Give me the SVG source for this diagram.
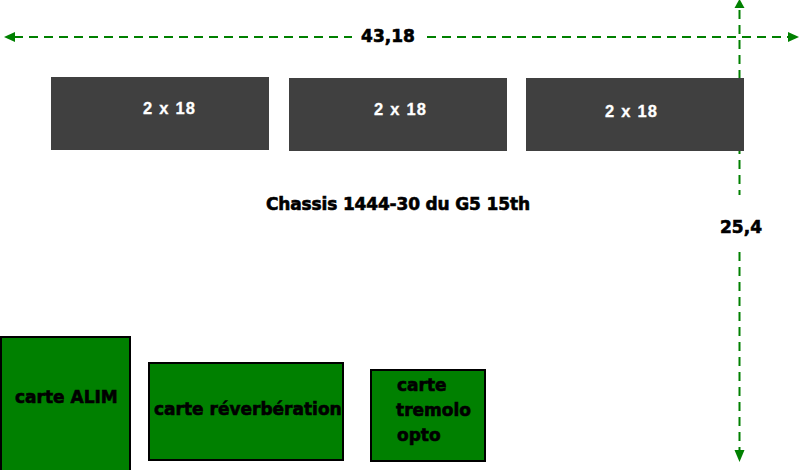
<svg xmlns="http://www.w3.org/2000/svg" width="799" height="470" viewBox="0 0 799 470">
<defs>
<style>
.dim{stroke:#008000;stroke-width:2;stroke-dasharray:9 6;fill:none}
.ah{fill:#008000}
.blk{fill:#404040}
.wt{font-family:"Liberation Sans",Arial,sans-serif;font-weight:bold;font-size:16.5px;fill:#fff;stroke:#fff;stroke-width:0.3}
.lbl{font-family:"DejaVu Sans",Verdana,sans-serif;font-weight:bold;font-size:17px;fill:#000;stroke:#000;stroke-width:0.6}
.card{fill:#008000;stroke:#000;stroke-width:2}
</style>
</defs>
<rect width="799" height="470" fill="#fff"/>
<g id="connectors">
<line class="dim" x1="14" y1="37" x2="352" y2="37"/>
<line class="dim" x1="427" y1="37" x2="790" y2="37"/>
<polygon class="ah" points="4,37 15,32 15,42"/>
<polygon class="ah" points="799,37 788,32 788,42"/>
<line class="dim" x1="739.5" y1="10" x2="739.5" y2="195"/>
<line class="dim" x1="739.5" y1="252" x2="739.5" y2="450"/>
<polygon class="ah" points="739.5,-1 734.5,8 744.5,8"/>
<polygon class="ah" points="739.5,462 734.5,450 744.5,450"/>
<text class="lbl" x="388" y="42" font-size="16.5" text-anchor="middle">43,18</text>
<text class="lbl" x="741" y="233" font-size="17.5" text-anchor="middle">25,4</text>
</g>
<g id="slot1">
<rect class="blk" x="51" y="77" width="218" height="73"/>
<text class="wt" x="143" y="114" textLength="52">2 x 18</text>
</g>
<g id="slot2">
<rect class="blk" x="289" y="78" width="218" height="73"/>
<text class="wt" x="374" y="115" textLength="52">2 x 18</text>
</g>
<g id="slot3">
<rect class="blk" x="526" y="78" width="218" height="73"/>
<text class="wt" x="605" y="117" textLength="52">2 x 18</text>
</g>
<g id="title">
<text class="lbl" x="266" y="210" textLength="264">Chassis 1444-30 du G5 15th</text>
</g>
<g id="alim">
<rect class="card" x="1" y="337" width="129" height="140"/>
<text class="lbl" x="15" y="403">carte ALIM</text>
</g>
<g id="reverb">
<rect class="card" x="149" y="363" width="194" height="97"/>
<text class="lbl" x="154" y="415">carte réverbération</text>
</g>
<g id="tremolo">
<rect class="card" x="371" y="370" width="114" height="91"/>
<text class="lbl" x="397" y="391">carte</text>
<text class="lbl" x="396" y="416">tremolo</text>
<text class="lbl" x="397" y="441">opto</text>
</g>
</svg>
